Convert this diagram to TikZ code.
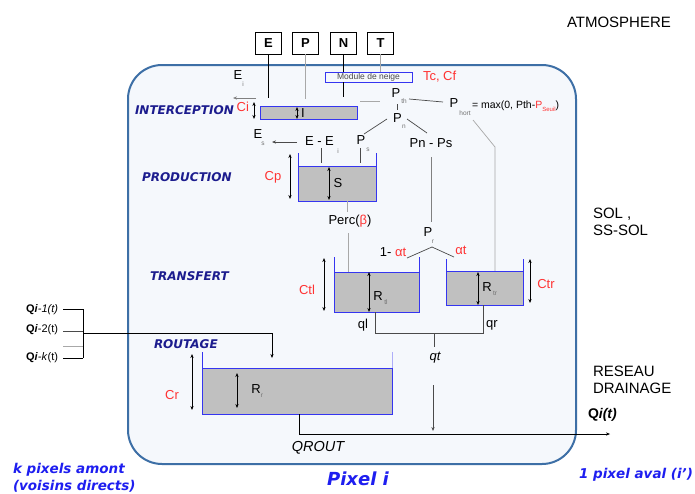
\documentclass[tikz,border=0pt]{standalone}
\usepackage{fontspec}
\setmainfont{Liberation Sans}
\newfontfamily\vfont{DejaVu Sans}
\usetikzlibrary{arrows.meta}
\definecolor{frameblue}{HTML}{3D6FA6}
\definecolor{framefill}{HTML}{F5F8FC}
\definecolor{resblue}{HTML}{3535F0}
\definecolor{resgray}{HTML}{C0C0C0}
\definecolor{navy}{HTML}{1C1C8E}
\definecolor{lblue}{HTML}{1E1EF0}
\definecolor{myred}{HTML}{FF3333}
\definecolor{lgray}{HTML}{A8A8A8}
\definecolor{dgray}{HTML}{4A4A4A}
\definecolor{subgray}{HTML}{707070}
\tikzset{
  base/.style={inner sep=0pt, outer sep=0pt},
  t13/.style={base, font=\fontsize{13}{15}\selectfont},
  t15/.style={base, font=\fontsize{15}{17}\selectfont, anchor=west, align=left},
  sb/.style={base, font=\fontsize{6.5}{7}\selectfont, text=subgray},
  redl/.style={base, font=\fontsize{13}{15}\selectfont, text=myred},
  zone/.style={base, font=\vfont\bfseries\itshape\fontsize{12}{14}\selectfont, text=navy, anchor=west},
  blab/.style={base, font=\vfont\bfseries\itshape\fontsize{13.5}{17}\selectfont, text=lblue, align=left},
  inbox/.style={base, draw=black, line width=0.8pt, minimum width=26pt, minimum height=22pt, font=\bfseries\fontsize{13}{15}\selectfont},
  ln/.style={line width=0.7pt, dgray},
  lg/.style={line width=0.7pt, lgray},
  dbl/.style={{Stealth[length=4pt,width=3.2pt]}-{Stealth[length=4pt,width=3.2pt]}, line width=0.7pt, black},
  arr/.style={-{Stealth[length=4pt,width=3.2pt]}, line width=0.6pt, dgray},
  water/.style={base, fill=resgray, draw=resblue, line width=0.9pt, anchor=north west},
  wall/.style={resblue, line width=0.9pt},
}
\begin{document}
\begin{tikzpicture}[x=1pt,y=-1pt]
\fill[white] (0,0) rectangle (695,493);
\useasboundingbox (0,0) rectangle (695,493);
\draw[frameblue, line width=2pt, fill=framefill, rounded corners=34pt] (128,65) rectangle (576,464);

% ---------- inputs
\node[inbox] (E) at (268.5,43) {E};
\node[inbox] (P) at (305.5,43) {P};
\node[inbox] (N) at (343.5,43) {N};
\node[inbox] (T) at (380.5,43) {T};
\node[base, draw=resblue, line width=0.8pt, minimum width=87pt, minimum height=10pt,
      font=\fontsize{8.5}{9}\selectfont, text=dgray] (mod) at (368.5,77) {Module de neige};
\node[redl, anchor=west] (tccf) at (423,77) {Tc, Cf};

% ---------- interception
\node[water, minimum width=97pt, minimum height=13pt] (ires) at (260,106) {};
\draw[ln, black] (E.south) -- ++(0,44);
\draw[lg] (P.south) -- ++(0,45);
\draw[ln, black] (N.south) -- (N.south |- mod.north);
\draw[ln, black] (N.south |- mod.south) -- ++(0,15);
\draw[lg] (T.south) -- (T.south |- mod.north);
\node[t13] (Ei) at (238,75) {E};
\node[sb] (Eisub) at (243,84) {i};
\coordinate (eiA) at (256,98);
\coordinate (eiB) at (233,98);
\draw[arr, gray] (eiA) -- (eiB);
\draw[dbl] (254,102) -- (254,119);
\node[redl, anchor=east] (Ci) at (249,107) {Ci};
\draw[dbl] (297,107) -- (297,119);
\node[t13] (Ilab) at (303,113) {I};
\node[zone] (zint) at (135,110) {INTERCEPTION};
\coordinate (iout) at (360,101);
\coordinate (pthin) at (380,101);
\draw[lg] (iout) -- (pthin);

% ---------- precipitation split
\node[t13] (Pth) at (396,93) {P};
\node[sb] (Pthsub) at (404,101) {th};
\node[t13] (Pn) at (397.5,118) {P};
\node[sb] (Pnsub) at (404,127) {n};
\draw[ln] (397,104) -- (397,110);
\node[t13] (Ph) at (454,103) {P};
\node[sb] (Phsub) at (465,113) {hort};
\node[base, anchor=west, font=\fontsize{10.5}{12}\selectfont] (maxe) at (472,106)
   {= max(0, Pth-\textcolor{myred}{P\raisebox{-3pt}{\fontsize{6}{7}\selectfont Seuil}})};
\draw[ln] (409,99) -- (443,102);
\draw[lg] (473,120) -- (495,147) -- (495,271);
\draw[ln] (387,119) -- (364,134);
\draw[ln] (407,119) -- (427,133);

\node[t13, anchor=west] (EEi) at (305,141) {E - E};
\node[sb] (EEisub) at (338,151) {i};
\node[t13] (Ps) at (361,140) {P};
\node[sb] (Pssub) at (368,150) {s};
\node[t13] (Es) at (258,134) {E};
\node[sb] (Essub) at (263,144) {s};
\draw[arr] (297,142) -- (272,142);
\draw[ln] (321,148) -- (321,163);
\draw[ln] (360,148) -- (360,163);

\node[t13] (PnPs) at (431,143) {Pn - Ps};
\draw[ln, gray] (431,157) -- (431,222);
\node[t13] (Pr) at (428,232) {P};
\node[sb] (Prsub) at (433,242) {r};
\draw[ln] (432,247) -- (407,258);
\draw[ln] (432,247) -- (454,257);
\node[t13] (al1) at (393,252) {1- \textcolor{myred}{αt}};
\node[redl] (al2) at (461,250) {αt};

% ---------- production
\node[water, minimum width=78pt, minimum height=35pt] (pres) at (298,166) {};
\draw[wall] (pres.north west) -- ++(0,-13);
\draw[wall] (pres.north east) -- ++(0,-13);
\draw[dbl] (290,154) -- (290,199);
\node[redl] (Cp) at (273,177) {Cp};
\draw[dbl] (329,167) -- (329,200);
\node[t13] (S) at (338,183) {S};
\node[zone] (zprod) at (142,177) {PRODUCTION};
\draw[lg] (347,201) -- (347,212);
\node[t13] (perc) at (350,221) {Perc(\textcolor{myred}{β})};
\draw[lg] (348,233) -- (348,272);

% ---------- transfert
\node[water, minimum width=85pt, minimum height=40pt] (tl) at (334,272) {};
\draw[wall] (tl.north west) -- ++(0,-15);
\draw[wall] (tl.north east) -- ++(0,-15);
\draw[dbl] (324,258) -- (324,311);
\node[redl] (Ctl) at (307,290) {Ctl};
\draw[dbl] (369,272) -- (369,312);
\node[t13] (Rtl) at (378,296) {R};
\node[sb] (Rtlsub) at (386,302) {tl};

\node[water, minimum width=77pt, minimum height=34pt] (tr) at (446,271) {};
\draw[wall] (tr.north west) -- ++(0,-12);
\draw[wall] (tr.north east) -- ++(0,-12);
\draw[dbl] (530,259) -- (530,303);
\node[redl] (Ctr) at (546,284) {Ctr};
\draw[dbl] (478,272) -- (478,305);
\node[t13] (Rtr) at (487,287) {R};
\node[sb] (Rtrsub) at (495,293) {tr};
\node[zone] (ztr) at (150,276) {TRANSFERT};

\draw[ln] (375,312) -- (375,333) -- (483,333) -- (483,305);
\draw[ln] (434,333) -- (434,347);
\node[t13] (ql) at (363,325) {ql};
\node[t13] (qr) at (492,325) {qr};
\node[t13, font=\itshape\fontsize{13}{15}\selectfont] (qt) at (435,358) {qt};
\draw[arr] (433,385) -- (433,431);

% ---------- routage
\node[water, minimum width=190pt, minimum height=46pt] (rr) at (202,368) {};
\draw[wall] (rr.north west) -- ++(0,-16);
\draw[wall, resblue!40] (rr.north east) -- ++(0,-16);
\draw[dbl] (192,354) -- (192,410);
\node[redl] (Cr) at (172,395) {Cr};
\draw[dbl] (237,373) -- (237,408);
\node[t13] (Rr) at (256,389) {R};
\node[sb] (Rrsub) at (262,396) {r};
\node[zone] (zrout) at (154,344) {ROUTAGE};

\coordinate (qo) at (610,434);
\draw[arr, black] (299,414) -- (299,434) -- (qo);
\node[t13, font=\itshape\fontsize{14.5}{16}\selectfont] (qrout) at (318,448) {QROUT};
\node[base, anchor=west, font=\bfseries\fontsize{14}{16}\selectfont] (Qit) at (588,415) {Q\textit{i(t)}};

% ---------- inflows
\node[base, anchor=east, font=\fontsize{11}{12}\selectfont] (q1) at (58,310) {\textbf{Q}\textbf{\textit{i}}\textit{-1(t)}};
\node[base, anchor=east, font=\fontsize{11}{12}\selectfont] (q2) at (58,330) {\textbf{Q}\textbf{\textit{i}}-2(t)};
\node[base, anchor=east, font=\fontsize{11}{12}\selectfont] (qk) at (58,358) {\textbf{Q}\textbf{\textit{i}}\textit{-k}(t)};
\draw[ln, black] (63,309) -- (83,309);
\draw[ln] (63,331) -- (83,331);
\draw[lg] (63,346) -- (83,346);
\draw[ln, black] (63,358) -- (83,358);
\draw[ln, black] (83,309) -- (83,358);
\draw[arr, black] (83,333) -- (272,333) -- (272,358);

% ---------- side labels
\node[t15] (atm) at (567,22) {ATMOSPHERE};
\node[t15] (sol) at (593,222) {SOL ,\\SS-SOL};
\node[t15] (res) at (593,380) {RESEAU\\DRAINAGE};
\node[blab, anchor=west] (kpx) at (13,478) {k pixels amont\\(voisins directs)};
\node[blab, font=\vfont\bfseries\itshape\fontsize{18}{20}\selectfont] (pix) at (358,479) {Pixel i};
\node[blab, anchor=west] (aval) at (579,475) {1 pixel aval (i’)};
\end{tikzpicture}
\end{document}
